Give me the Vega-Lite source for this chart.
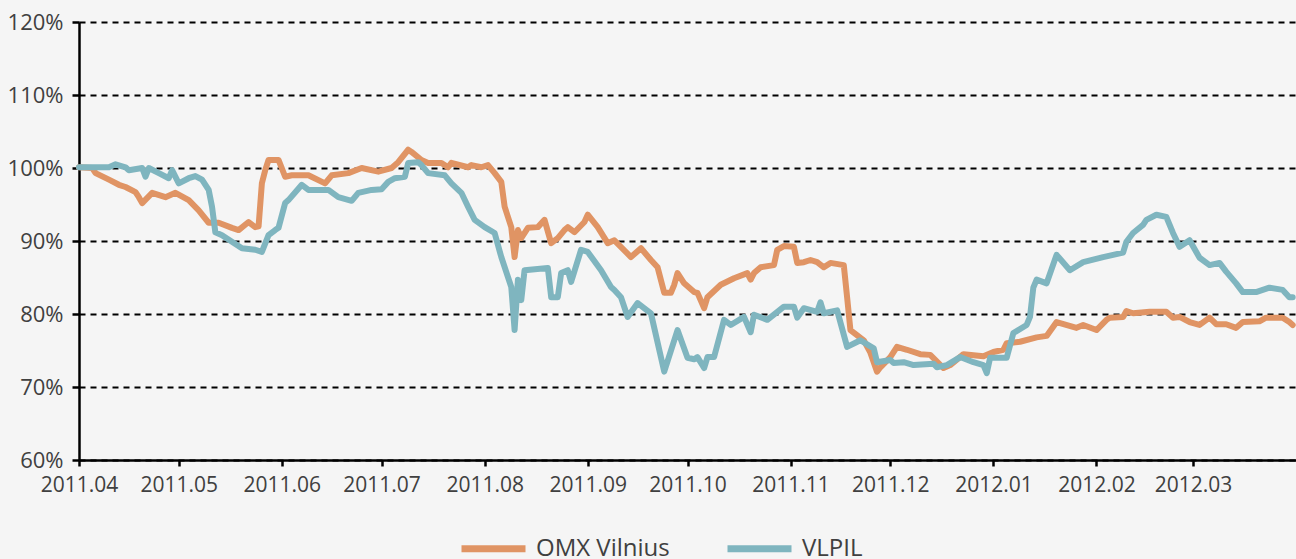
{
"$schema": "https://vega.github.io/schema/vega-lite/v6.json",
"width": 1217, "height": 438,
"autosize": "none",
"padding": {"left": 79, "top": 22, "right": 0, "bottom": 99},
"background": "#f5f5f5",
"config": {"view": {"stroke": null}, "font": "Open Sans"},
"datasets": {
"omx": [
{"date":"2011-04-01","value":100.1},{"date":"2011-04-05","value":100.0},{"date":"2011-04-06","value":99.3},{"date":"2011-04-10","value":98.4},{"date":"2011-04-13","value":97.7},{"date":"2011-04-15","value":97.4},{"date":"2011-04-18","value":96.7},{"date":"2011-04-19","value":96.0},{"date":"2011-04-20","value":95.2},{"date":"2011-04-23","value":96.6},{"date":"2011-04-27","value":96.0},{"date":"2011-04-30","value":96.6},{"date":"2011-05-04","value":95.6},{"date":"2011-05-07","value":94.2},{"date":"2011-05-10","value":92.5},{"date":"2011-05-13","value":92.5},{"date":"2011-05-17","value":91.8},{"date":"2011-05-19","value":91.5},{"date":"2011-05-22","value":92.6},{"date":"2011-05-24","value":91.9},{"date":"2011-05-25","value":92.0},{"date":"2011-05-26","value":97.9},{"date":"2011-05-27","value":99.7},{"date":"2011-05-28","value":101.1},{"date":"2011-05-31","value":101.1},{"date":"2011-06-02","value":98.8},{"date":"2011-06-04","value":99.0},{"date":"2011-06-09","value":99.0},{"date":"2011-06-14","value":97.9},{"date":"2011-06-16","value":99.0},{"date":"2011-06-21","value":99.3},{"date":"2011-06-25","value":100.0},{"date":"2011-06-30","value":99.5},{"date":"2011-07-04","value":100.0},{"date":"2011-07-06","value":100.8},{"date":"2011-07-09","value":102.5},{"date":"2011-07-10","value":102.2},{"date":"2011-07-13","value":101.1},{"date":"2011-07-15","value":100.7},{"date":"2011-07-19","value":100.7},{"date":"2011-07-21","value":100.1},{"date":"2011-07-22","value":100.7},{"date":"2011-07-27","value":100.1},{"date":"2011-07-28","value":100.4},{"date":"2011-07-31","value":100.1},{"date":"2011-08-02","value":100.4},{"date":"2011-08-04","value":99.3},{"date":"2011-08-06","value":98.1},{"date":"2011-08-07","value":94.7},{"date":"2011-08-09","value":91.9},{"date":"2011-08-10","value":87.8},{"date":"2011-08-11","value":91.5},{"date":"2011-08-12","value":90.4},{"date":"2011-08-14","value":91.8},{"date":"2011-08-17","value":91.9},{"date":"2011-08-19","value":92.9},{"date":"2011-08-21","value":89.7},{"date":"2011-08-23","value":90.4},{"date":"2011-08-25","value":91.5},{"date":"2011-08-26","value":91.9},{"date":"2011-08-28","value":91.2},{"date":"2011-08-31","value":92.6},{"date":"2011-09-01","value":93.6},{"date":"2011-09-04","value":91.9},{"date":"2011-09-07","value":89.7},{"date":"2011-09-09","value":90.1},{"date":"2011-09-14","value":87.8},{"date":"2011-09-17","value":89.0},{"date":"2011-09-20","value":87.4},{"date":"2011-09-22","value":86.4},{"date":"2011-09-24","value":82.9},{"date":"2011-09-26","value":82.9},{"date":"2011-09-27","value":84.0},{"date":"2011-09-28","value":85.6},{"date":"2011-09-30","value":84.2},{"date":"2011-10-03","value":83.0},{"date":"2011-10-04","value":82.9},{"date":"2011-10-06","value":80.8},{"date":"2011-10-07","value":82.3},{"date":"2011-10-11","value":84.0},{"date":"2011-10-15","value":84.9},{"date":"2011-10-19","value":85.6},{"date":"2011-10-20","value":84.7},{"date":"2011-10-21","value":85.6},{"date":"2011-10-23","value":86.4},{"date":"2011-10-27","value":86.7},{"date":"2011-10-28","value":88.8},{"date":"2011-10-30","value":89.3},{"date":"2011-11-02","value":89.2},{"date":"2011-11-03","value":87.0},{"date":"2011-11-05","value":87.1},{"date":"2011-11-07","value":87.4},{"date":"2011-11-09","value":87.1},{"date":"2011-11-11","value":86.4},{"date":"2011-11-13","value":87.0},{"date":"2011-11-17","value":86.7},{"date":"2011-11-18","value":82.3},{"date":"2011-11-19","value":77.8},{"date":"2011-11-23","value":76.4},{"date":"2011-11-25","value":74.7},{"date":"2011-11-27","value":72.1},{"date":"2011-11-28","value":72.7},{"date":"2011-12-01","value":74.1},{"date":"2011-12-03","value":75.5},{"date":"2011-12-06","value":75.1},{"date":"2011-12-10","value":74.5},{"date":"2011-12-13","value":74.4},{"date":"2011-12-17","value":72.6},{"date":"2011-12-19","value":73.0},{"date":"2011-12-23","value":74.5},{"date":"2011-12-29","value":74.2},{"date":"2012-01-01","value":74.8},{"date":"2012-01-04","value":75.1},{"date":"2012-01-05","value":76.0},{"date":"2012-01-09","value":76.2},{"date":"2012-01-14","value":76.8},{"date":"2012-01-17","value":77.0},{"date":"2012-01-20","value":78.9},{"date":"2012-01-26","value":78.1},{"date":"2012-01-28","value":78.5},{"date":"2012-02-01","value":77.8},{"date":"2012-02-04","value":79.2},{"date":"2012-02-05","value":79.5},{"date":"2012-02-09","value":79.6},{"date":"2012-02-10","value":80.4},{"date":"2012-02-12","value":80.1},{"date":"2012-02-17","value":80.3},{"date":"2012-02-22","value":80.3},{"date":"2012-02-24","value":79.5},{"date":"2012-02-26","value":79.6},{"date":"2012-02-29","value":78.9},{"date":"2012-03-03","value":78.5},{"date":"2012-03-06","value":79.5},{"date":"2012-03-08","value":78.6},{"date":"2012-03-11","value":78.6},{"date":"2012-03-14","value":78.1},{"date":"2012-03-16","value":78.9},{"date":"2012-03-21","value":79.0},{"date":"2012-03-23","value":79.5},{"date":"2012-03-28","value":79.5},{"date":"2012-03-30","value":78.9},{"date":"2012-03-31","value":78.5}
],
"vlpil": [
{"date":"2011-04-01","value":100.1},{"date":"2011-04-06","value":100.1},{"date":"2011-04-10","value":100.1},{"date":"2011-04-12","value":100.5},{"date":"2011-04-15","value":100.1},{"date":"2011-04-16","value":99.7},{"date":"2011-04-20","value":100.0},{"date":"2011-04-21","value":98.8},{"date":"2011-04-22","value":100.0},{"date":"2011-04-25","value":99.3},{"date":"2011-04-28","value":98.6},{"date":"2011-04-29","value":99.7},{"date":"2011-05-01","value":97.9},{"date":"2011-05-04","value":98.6},{"date":"2011-05-06","value":98.9},{"date":"2011-05-08","value":98.4},{"date":"2011-05-10","value":97.0},{"date":"2011-05-11","value":94.7},{"date":"2011-05-12","value":91.2},{"date":"2011-05-14","value":90.8},{"date":"2011-05-17","value":89.9},{"date":"2011-05-20","value":89.0},{"date":"2011-05-24","value":88.8},{"date":"2011-05-26","value":88.5},{"date":"2011-05-28","value":90.8},{"date":"2011-05-30","value":91.5},{"date":"2011-05-31","value":91.8},{"date":"2011-06-02","value":95.2},{"date":"2011-06-03","value":95.6},{"date":"2011-06-07","value":97.7},{"date":"2011-06-09","value":97.0},{"date":"2011-06-15","value":97.0},{"date":"2011-06-18","value":96.0},{"date":"2011-06-22","value":95.5},{"date":"2011-06-24","value":96.6},{"date":"2011-06-28","value":97.0},{"date":"2011-07-01","value":97.1},{"date":"2011-07-03","value":98.1},{"date":"2011-07-05","value":98.6},{"date":"2011-07-08","value":98.8},{"date":"2011-07-09","value":100.7},{"date":"2011-07-12","value":100.8},{"date":"2011-07-13","value":100.4},{"date":"2011-07-15","value":99.3},{"date":"2011-07-20","value":99.0},{"date":"2011-07-22","value":97.9},{"date":"2011-07-25","value":96.6},{"date":"2011-07-27","value":94.7},{"date":"2011-07-29","value":92.9},{"date":"2011-08-01","value":91.9},{"date":"2011-08-04","value":91.1},{"date":"2011-08-06","value":87.8},{"date":"2011-08-09","value":83.7},{"date":"2011-08-10","value":77.8},{"date":"2011-08-11","value":84.7},{"date":"2011-08-12","value":81.9},{"date":"2011-08-13","value":86.0},{"date":"2011-08-20","value":86.3},{"date":"2011-08-21","value":82.3},{"date":"2011-08-23","value":82.3},{"date":"2011-08-24","value":85.6},{"date":"2011-08-26","value":86.0},{"date":"2011-08-27","value":84.4},{"date":"2011-08-30","value":88.8},{"date":"2011-09-01","value":88.5},{"date":"2011-09-05","value":86.0},{"date":"2011-09-08","value":83.7},{"date":"2011-09-09","value":83.3},{"date":"2011-09-11","value":82.3},{"date":"2011-09-13","value":79.6},{"date":"2011-09-16","value":81.5},{"date":"2011-09-20","value":80.1},{"date":"2011-09-24","value":72.1},{"date":"2011-09-28","value":77.8},{"date":"2011-10-01","value":74.0},{"date":"2011-10-03","value":73.8},{"date":"2011-10-04","value":74.1},{"date":"2011-10-06","value":72.6},{"date":"2011-10-07","value":74.1},{"date":"2011-10-09","value":74.1},{"date":"2011-10-12","value":79.2},{"date":"2011-10-14","value":78.5},{"date":"2011-10-18","value":79.6},{"date":"2011-10-20","value":77.5},{"date":"2011-10-21","value":79.9},{"date":"2011-10-25","value":79.2},{"date":"2011-10-30","value":81.0},{"date":"2011-11-02","value":81.0},{"date":"2011-11-03","value":79.5},{"date":"2011-11-05","value":80.8},{"date":"2011-11-09","value":80.3},{"date":"2011-11-10","value":81.6},{"date":"2011-11-11","value":80.1},{"date":"2011-11-15","value":80.5},{"date":"2011-11-18","value":75.5},{"date":"2011-11-22","value":76.4},{"date":"2011-11-26","value":75.3},{"date":"2011-11-27","value":73.4},{"date":"2011-12-01","value":73.7},{"date":"2011-12-02","value":73.3},{"date":"2011-12-05","value":73.4},{"date":"2011-12-08","value":73.0},{"date":"2011-12-14","value":73.2},{"date":"2011-12-15","value":72.7},{"date":"2011-12-18","value":73.0},{"date":"2011-12-22","value":74.1},{"date":"2011-12-26","value":73.4},{"date":"2011-12-29","value":73.0},{"date":"2011-12-30","value":71.9},{"date":"2011-12-31","value":74.0},{"date":"2012-01-05","value":74.0},{"date":"2012-01-07","value":77.4},{"date":"2012-01-11","value":78.5},{"date":"2012-01-12","value":79.6},{"date":"2012-01-13","value":83.6},{"date":"2012-01-14","value":84.7},{"date":"2012-01-17","value":84.2},{"date":"2012-01-20","value":88.1},{"date":"2012-01-24","value":86.0},{"date":"2012-01-28","value":87.1},{"date":"2012-02-03","value":87.8},{"date":"2012-02-09","value":88.4},{"date":"2012-02-10","value":89.9},{"date":"2012-02-12","value":91.1},{"date":"2012-02-15","value":92.2},{"date":"2012-02-16","value":92.9},{"date":"2012-02-19","value":93.6},{"date":"2012-02-22","value":93.3},{"date":"2012-02-24","value":91.1},{"date":"2012-02-26","value":89.2},{"date":"2012-02-29","value":90.1},{"date":"2012-03-03","value":87.7},{"date":"2012-03-06","value":86.7},{"date":"2012-03-09","value":87.0},{"date":"2012-03-11","value":85.8},{"date":"2012-03-14","value":84.2},{"date":"2012-03-16","value":83.0},{"date":"2012-03-20","value":83.0},{"date":"2012-03-24","value":83.6},{"date":"2012-03-28","value":83.3},{"date":"2012-03-30","value":82.3},{"date":"2012-03-31","value":82.3}
]
},
"layer": [
{
"data": {"name": "omx"},
"transform": [{"calculate": "'OMX Vilnius'", "as": "series"}],
"mark": {"type": "line", "strokeWidth": 6, "strokeJoin": "round", "strokeCap": "round"}
},
{
"data": {"name": "vlpil"},
"transform": [{"calculate": "'VLPIL'", "as": "series"}],
"mark": {"type": "line", "strokeWidth": 6, "strokeJoin": "round", "strokeCap": "round"}
}
],
"encoding": {
"x": {"field": "date", "type": "temporal",
"scale": {"type": "utc", "domain": [{"year": 2011, "month": 4, "date": 1, "utc": true}, {"year": 2012, "month": 4, "date": 1, "utc": true}]},
"axis": {"title": null, "labelExpr": "utcFormat(datum.value, '%Y.%m')",
"values": [{"year":2011,"month":4,"date":1,"utc":true},{"year":2011,"month":5,"date":1,"utc":true},{"year":2011,"month":6,"date":1,"utc":true},{"year":2011,"month":7,"date":1,"utc":true},{"year":2011,"month":8,"date":1,"utc":true},{"year":2011,"month":9,"date":1,"utc":true},{"year":2011,"month":10,"date":1,"utc":true},{"year":2011,"month":11,"date":1,"utc":true},{"year":2011,"month":12,"date":1,"utc":true},{"year":2012,"month":1,"date":1,"utc":true},{"year":2012,"month":2,"date":1,"utc":true},{"year":2012,"month":3,"date":1,"utc":true}],
"grid": false, "domainColor": "#000000", "domainWidth": 2.5, "tickColor": "#000000", "tickWidth": 2.5, "tickSize": 6,
"labelFontSize": 21, "labelColor": "#404040", "labelPadding": 8, "labelFlush": false, "labelOverlap": false}},
"y": {"field": "value", "type": "quantitative",
"scale": {"domain": [60, 120], "nice": false, "zero": false},
"axis": {"title": null, "values": [60, 70, 80, 90, 100, 110, 120], "labelExpr": "datum.value + '%'",
"grid": true, "gridColor": "#000000", "gridDash": [6, 5], "gridWidth": 2,
"domainColor": "#000000", "domainWidth": 2.5, "tickColor": "#000000", "tickWidth": 2.5, "tickSize": 7,
"labelFontSize": 22, "labelColor": "#404040", "labelPadding": 9, "labelFlush": false}},
"color": {"field": "series", "type": "nominal",
"scale": {"domain": ["OMX Vilnius", "VLPIL"], "range": ["#e09464", "#7fb5bf"]},
"legend": {"title": null, "orient": "none", "legendX": 379, "legendY": 491, "direction": "horizontal",
"symbolType": "stroke", "symbolSize": 4096, "symbolStrokeWidth": 7, "labelFontSize": 24, "labelColor": "#404040",
"labelOffset": 7, "columnPadding": 43}}
}
}
